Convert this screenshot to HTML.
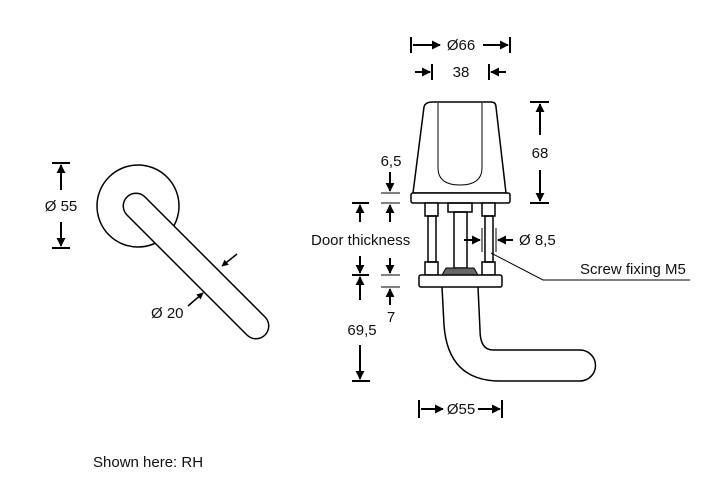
<!DOCTYPE html>
<html><head><style>body{margin:0;background:#fff}svg{display:block}text{font-family:"Liberation Sans",sans-serif;font-size:15px;fill:#111}</style></head><body>
<svg width="710" height="478" viewBox="0 0 710 478" xmlns="http://www.w3.org/2000/svg">
<defs><marker id="a" viewBox="0 0 10 10" refX="9" refY="5" markerWidth="4.5" markerHeight="4.5" orient="auto"><path d="M0,0L10,5L0,10z" fill="#000"/></marker></defs>
<g stroke="#000" stroke-width="1.5" fill="none">
<circle cx="138" cy="206" r="41"/>
<line x1="136" y1="206" x2="256" y2="326" stroke-width="27" stroke-linecap="round"/>
<line x1="136" y1="206" x2="256" y2="326" stroke="#fff" stroke-width="24" stroke-linecap="round"/>
<line x1="52" y1="163" x2="70" y2="163" stroke-width="2"/><line x1="61" y1="190" x2="61" y2="165" stroke-width="2" marker-end="url(#a)"/>
<line x1="61" y1="222" x2="61" y2="246" stroke-width="2" marker-end="url(#a)"/><line x1="52" y1="248" x2="70" y2="248" stroke-width="2"/>
<line x1="237" y1="254" x2="222" y2="266" marker-end="url(#a)"/>
<line x1="188" y1="306" x2="203" y2="293" marker-end="url(#a)"/>
<line x1="411" y1="37" x2="411" y2="53" stroke-width="2"/><line x1="413" y1="45" x2="440" y2="45" stroke-width="2" marker-end="url(#a)"/>
<line x1="510" y1="37" x2="510" y2="53" stroke-width="2"/><line x1="483" y1="45" x2="508" y2="45" stroke-width="2" marker-end="url(#a)"/>
<line x1="432" y1="64" x2="432" y2="80" stroke-width="2"/><line x1="415" y1="72" x2="430" y2="72" stroke-width="2" marker-end="url(#a)"/>
<line x1="489" y1="64" x2="489" y2="80" stroke-width="2"/><line x1="506" y1="72" x2="491" y2="72" stroke-width="2" marker-end="url(#a)"/>
<path d="M433,102 L491,102 Q496,102 496,107 L506,193 L413,193 L424,107 Q425,102 433,102z" fill="#fff"/>
<path d="M438,103 L438,168 Q438,185 460,185 Q482,185 482,168 L482,103" stroke-width="1"/>
<rect x="411" y="193" width="99" height="10" rx="2" fill="#fff"/>
<line x1="530" y1="102" x2="549" y2="102" stroke-width="2"/><line x1="540" y1="135" x2="540" y2="104" stroke-width="2" marker-end="url(#a)"/>
<line x1="540" y1="170" x2="540" y2="201" stroke-width="2" marker-end="url(#a)"/><line x1="530" y1="203" x2="549" y2="203" stroke-width="2"/>
<rect x="425" y="203" width="13" height="13" fill="#fff"/><rect x="428" y="216" width="8" height="46"/><rect x="425" y="262" width="13" height="13"/>
<rect x="482" y="203" width="13" height="13" fill="#fff"/><rect x="485" y="216" width="8" height="46"/><rect x="482" y="262" width="13" height="13"/>
<rect x="448" y="203" width="24" height="9"/><rect x="454" y="212" width="13" height="56"/>
<path d="M442,275 L446,268 L474,268 L478,275" fill="#666" stroke-width="1"/>
<rect x="419" y="275" width="83" height="12" rx="2" fill="#fff"/>
<path d="M442,287 L444,325 Q448,381 500,381 L580,381 A15.5,15.5 0 0 0 580,350 L493,350 Q480,350 480,330 L478,287"/>
<line x1="419" y1="400" x2="419" y2="418" stroke-width="2"/><line x1="421" y1="409" x2="443" y2="409" stroke-width="2" marker-end="url(#a)"/>
<line x1="502" y1="400" x2="502" y2="418" stroke-width="2"/><line x1="478" y1="409" x2="500" y2="409" stroke-width="2" marker-end="url(#a)"/>
<line x1="352" y1="203" x2="369" y2="203" stroke-width="2"/><line x1="360" y1="222" x2="360" y2="205" stroke-width="2" marker-end="url(#a)"/>
<line x1="360" y1="256" x2="360" y2="273" stroke-width="2" marker-end="url(#a)"/><line x1="352" y1="275" x2="369" y2="275" stroke-width="2"/>
<line x1="360" y1="300" x2="360" y2="277" stroke-width="2" marker-end="url(#a)"/>
<line x1="360" y1="345" x2="360" y2="379" stroke-width="2" marker-end="url(#a)"/><line x1="352" y1="381" x2="370" y2="381" stroke-width="2"/>
<line x1="381" y1="193" x2="400" y2="193" stroke-width="1"/><line x1="381" y1="203" x2="400" y2="203" stroke-width="1"/>
<line x1="390" y1="172" x2="390" y2="191" stroke-width="2" marker-end="url(#a)"/><line x1="390" y1="222" x2="390" y2="205" stroke-width="2" marker-end="url(#a)"/>
<line x1="381" y1="275" x2="400" y2="275" stroke-width="1"/><line x1="381" y1="287" x2="400" y2="287" stroke-width="1"/>
<line x1="390" y1="258" x2="390" y2="273" stroke-width="2" marker-end="url(#a)"/><line x1="390" y1="305" x2="390" y2="289" stroke-width="2" marker-end="url(#a)"/>
<line x1="482" y1="228" x2="482" y2="252" stroke-width="1"/><line x1="496" y1="228" x2="496" y2="252" stroke-width="1"/>
<line x1="464" y1="240" x2="480" y2="240" stroke-width="2" marker-end="url(#a)"/><line x1="513" y1="240" x2="498" y2="240" stroke-width="2" marker-end="url(#a)"/>
<polyline points="491,253 543,280 690,280" stroke-width="1"/>
</g>
<text x="61" y="211" text-anchor="middle">Ø 55</text>
<text x="151" y="318">Ø 20</text>
<text x="461" y="50" text-anchor="middle">Ø66</text>
<text x="461" y="77" text-anchor="middle">38</text>
<text x="540" y="158" text-anchor="middle">68</text>
<text x="391" y="166" text-anchor="middle">6,5</text>
<text x="311" y="245">Door thickness</text>
<text x="519" y="245">Ø 8,5</text>
<text x="580" y="274">Screw fixing M5</text>
<text x="391" y="322" text-anchor="middle">7</text>
<text x="362" y="335" text-anchor="middle">69,5</text>
<text x="461" y="414" text-anchor="middle">Ø55</text>
<text x="93" y="467">Shown here: RH</text>
</svg>
</body></html>
